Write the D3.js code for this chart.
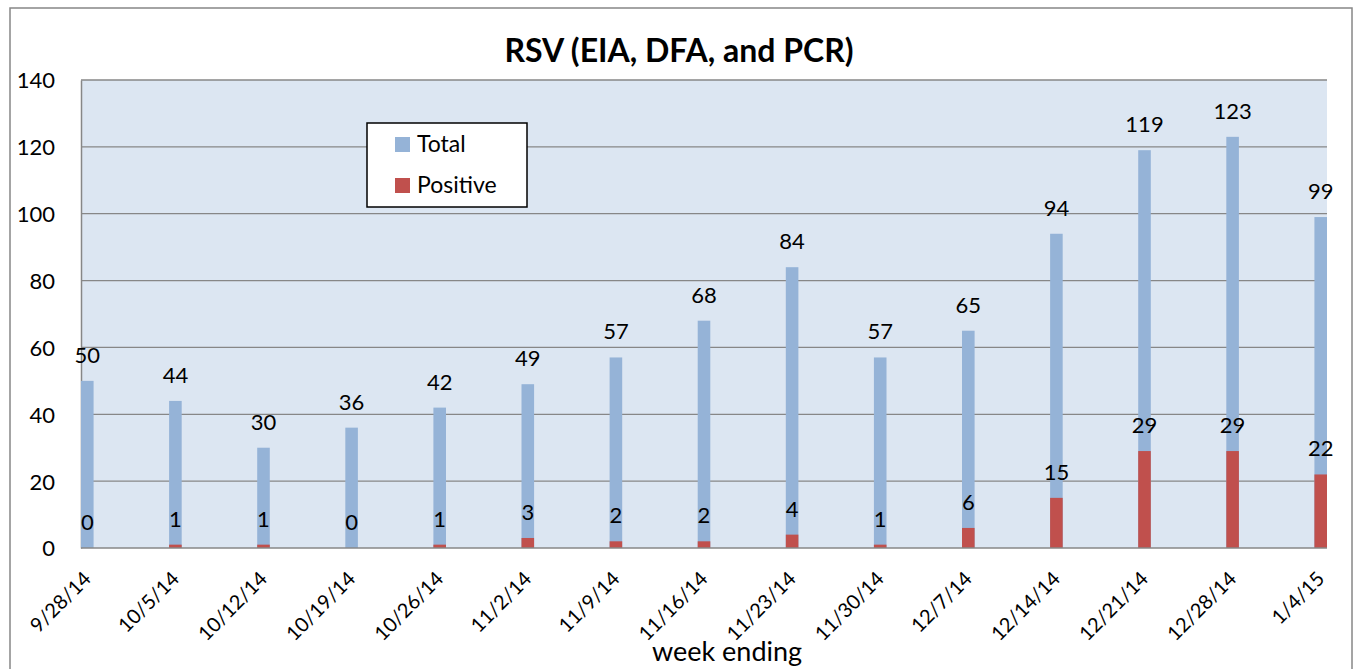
<html>
<head>
  <style>
    body {
      margin: 0;
      background: #ffffff;
      font-family: Lato, "Open Sans", sans-serif;
    }
    svg text {
      fill: #000;
    }
  </style>
</head>
<body>
  <div id="chart"></div>
  <script src="https://d3js.org/d3.v7.min.js"></script>
  <script>
    // week ending dates and counts
    var weeks = ["9/28/14", "10/5/14", "10/12/14", "10/19/14", "10/26/14", "11/2/14", "11/9/14",
                 "11/16/14", "11/23/14", "11/30/14", "12/7/14", "12/14/14", "12/21/14", "12/28/14", "1/4/15"];
    var total = [50, 44, 30, 36, 42, 49, 57, 68, 84, 57, 65, 94, 119, 123, 99];
    var positive = [0, 1, 1, 0, 1, 3, 2, 2, 4, 1, 6, 15, 29, 29, 22];
    var yTicks = [0, 20, 40, 60, 80, 100, 120, 140];

    var width = 1355, height = 669;
    var plot = { left: 81, right: 1327, top: 80, bottom: 548 };
    var parse = d3.utcParse("%m/%d/%y");
    var day = 24 * 3600 * 1000;

    var rows = weeks.map(function (w, i) {
      return { label: w, date: parse(w), total: total[i], positive: positive[i] };
    });

    var svg = d3.select("#chart").append("svg")
      .attr("width", width)
      .attr("height", height);

    // outer chart border
    svg.append("rect")
      .attr("x", 10).attr("y", 8)
      .attr("width", 1342).attr("height", 700)
      .attr("fill", "#fff")
      .attr("stroke", "#878787")
      .attr("stroke-width", 1.5);

    var x = d3.scaleUtc()
      .domain([rows[0].date, new Date(+rows[rows.length - 1].date + day)])
      .range([plot.left, plot.right]);

    var y = d3.scaleLinear()
      .domain([0, 140])
      .range([plot.bottom, plot.top]);

    svg.append("rect")
      .attr("x", plot.left).attr("y", plot.top)
      .attr("width", plot.right - plot.left)
      .attr("height", plot.bottom - plot.top)
      .attr("fill", "#dce6f2");

    // gridlines
    svg.append("g")
      .selectAll("line")
      .data(yTicks.filter(function (d) { return d > 0; }))
      .enter().append("line")
      .attr("x1", plot.left).attr("x2", plot.right)
      .attr("y1", function (d) { return y(d); })
      .attr("y2", function (d) { return y(d); })
      .attr("stroke", "#878787")
      .attr("stroke-width", 1.3);

    // y axis
    var yAxis = svg.append("g")
      .attr("transform", "translate(" + plot.left + ",0)")
      .call(d3.axisLeft(y).tickValues(yTicks).tickSize(0).tickPadding(26));
    yAxis.select(".domain").attr("stroke", "#878787").attr("stroke-width", 1.5);
    yAxis.selectAll("text")
      .attr("font-family", "Lato, sans-serif")
      .attr("font-size", 22)
      .attr("fill", "#000")
      .attr("dy", "0.36em");

    function barW(d) {
      return x(new Date(+d.date + day)) - x(d.date);
    }

    // Total bars
    svg.append("g")
      .selectAll("rect")
      .data(rows)
      .enter().append("rect")
      .attr("x", function (d) { return x(d.date); })
      .attr("y", function (d) { return y(d.total); })
      .attr("width", barW)
      .attr("height", function (d) { return y(0) - y(d.total); })
      .attr("fill", "#95b3d7");

    // Positive bars, drawn over the totals
    svg.append("g")
      .selectAll("rect")
      .data(rows)
      .enter().append("rect")
      .attr("x", function (d) { return x(d.date); })
      .attr("y", function (d) { return y(d.positive); })
      .attr("width", barW)
      .attr("height", function (d) { return y(0) - y(d.positive); })
      .attr("fill", "#c0504d");

    // x axis line
    svg.append("line")
      .attr("x1", plot.left).attr("x2", plot.right)
      .attr("y1", plot.bottom).attr("y2", plot.bottom)
      .attr("stroke", "#878787")
      .attr("stroke-width", 1.5);

    // data labels
    function labels(key) {
      svg.append("g")
        .selectAll("text")
        .data(rows)
        .enter().append("text")
        .attr("x", function (d) { return x(d.date) + barW(d) / 2; })
        .attr("y", function (d) { return y(d[key]) - 18; })
        .attr("text-anchor", "middle")
        .attr("font-size", 22)
        .text(function (d) { return d[key]; });
    }
    labels("total");
    labels("positive");

    // x tick labels, rotated
    svg.append("g")
      .selectAll("text")
      .data(rows)
      .enter().append("text")
      .attr("transform", function (d) {
        return "translate(" + (x(d.date) + barW(d) / 2 + 5) + "," + 580 + ") rotate(-45)";
      })
      .attr("text-anchor", "end")
      .attr("font-size", 20)
      .text(function (d) { return d.label; });

    // title and axis title
    svg.append("text")
      .attr("x", 679).attr("y", 62)
      .attr("text-anchor", "middle")
      .attr("font-size", 32)
      .attr("font-weight", "bold")
      .text("RSV (EIA, DFA, and PCR)");

    svg.append("text")
      .attr("x", 727).attr("y", 661)
      .attr("text-anchor", "middle")
      .attr("font-size", 27)
      .text("week ending");

    // legend
    var legend = svg.append("g").attr("transform", "translate(367,123)");
    legend.append("rect")
      .attr("width", 160).attr("height", 84)
      .attr("fill", "#fff")
      .attr("stroke", "#000")
      .attr("stroke-width", 1.5);
    var items = [{ name: "Total", color: "#95b3d7" }, { name: "Positive", color: "#c0504d" }];
    items.forEach(function (it, i) {
      legend.append("rect")
        .attr("x", 28).attr("y", 14 + i * 41)
        .attr("width", 15).attr("height", 15)
        .attr("fill", it.color);
      legend.append("text")
        .attr("x", 50).attr("y", 29 + i * 41)
        .attr("font-size", 23)
        .text(it.name);
    });
  </script>
</body>
</html>
